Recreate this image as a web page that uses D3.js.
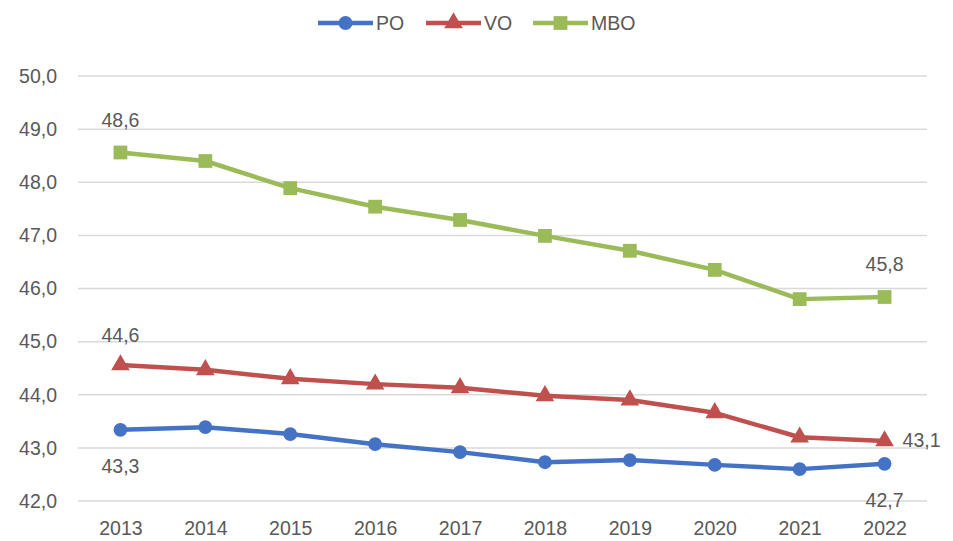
<!DOCTYPE html>
<html>
<head>
<meta charset="utf-8">
<script src="https://cdn.jsdelivr.net/npm/d3@7"></script>
<style>
  body { margin: 0; background: #fff; }
  text { font-family: "Liberation Sans", Arial, sans-serif; fill: #595959; }
</style>
</head>
<body>
<div id="chart"></div>
<script>
var years = ["2013","2014","2015","2016","2017","2018","2019","2020","2021","2022"];
var po  = [43.34, 43.39, 43.26, 43.07, 42.92, 42.73, 42.77, 42.68, 42.60, 42.70];
var vo  = [44.56, 44.47, 44.30, 44.20, 44.13, 43.98, 43.90, 43.66, 43.20, 43.13];
var mbo = [48.56, 48.40, 47.89, 47.54, 47.29, 46.99, 46.71, 46.35, 45.80, 45.84];
var yTicks = [42, 43, 44, 45, 46, 47, 48, 49, 50];

var width = 953, height = 541;
var plotLeft = 78, plotRight = 927, plotTop = 76, plotBottom = 501;
var fontSize = "19.5px";

var fmt = function(v) { return d3.format(".1f")(v).replace(".", ","); };

var x = d3.scalePoint().domain(years).range([plotLeft, plotRight]).padding(0.5);
var y = d3.scaleLinear().domain([42, 50]).range([plotBottom, plotTop]);

var svg = d3.select("#chart").append("svg")
    .attr("width", width)
    .attr("height", height);

// gridlines
svg.append("g")
  .selectAll("line")
  .data(yTicks)
  .enter().append("line")
    .attr("x1", plotLeft).attr("x2", plotRight)
    .attr("y1", function(d) { return y(d); })
    .attr("y2", function(d) { return y(d); })
    .attr("stroke", "#d9d9d9")
    .attr("stroke-width", 1.5);

// y axis labels
var yAxis = d3.axisLeft(y).tickValues(yTicks).tickFormat(fmt).tickSize(0).tickPadding(0);
var gy = svg.append("g")
    .attr("transform", "translate(57,0)")
    .call(yAxis);
gy.select(".domain").remove();
gy.selectAll("text")
    .style("font-size", fontSize)
    .style("font-family", "'Liberation Sans', Arial, sans-serif")
    .attr("fill", "#595959");

// x axis labels
var xAxis = d3.axisBottom(x).tickSize(0).tickPadding(0);
var gx = svg.append("g")
    .attr("transform", "translate(0,521)")
    .call(xAxis);
gx.select(".domain").remove();
gx.selectAll("text")
    .style("font-size", fontSize)
    .style("font-family", "'Liberation Sans', Arial, sans-serif")
    .attr("fill", "#595959");

var series = [
  {name: "PO",  values: po,  color: "#4472C4", shape: d3.symbolCircle,   size: 150},
  {name: "VO",  values: vo,  color: "#C0504D", shape: d3.symbolTriangle, size: 150},
  {name: "MBO", values: mbo, color: "#9BBB59", shape: d3.symbolSquare,   size: 190}
];

var line = d3.line()
    .x(function(d, i) { return x(years[i]); })
    .y(function(d) { return y(d); });

series.forEach(function(s) {
  svg.append("path")
      .datum(s.values)
      .attr("fill", "none")
      .attr("stroke", s.color)
      .attr("stroke-width", 4.5)
      .attr("stroke-linejoin", "round")
      .attr("d", line);

  svg.selectAll(".m-" + s.name)
      .data(s.values)
    .enter().append("path")
      .attr("class", "m-" + s.name)
      .attr("transform", function(d, i) { return "translate(" + x(years[i]) + "," + y(d) + ")"; })
      .attr("d", d3.symbol().type(s.shape).size(s.size))
      .attr("fill", s.color);
});

// data labels
var labels = [
  {v: mbo[0], i: 0, dx: 0,  dy: -26, anchor: "middle"},
  {v: mbo[9], i: 9, dx: 0,  dy: -26, anchor: "middle"},
  {v: vo[0],  i: 0, dx: 0,  dy: -23, anchor: "middle"},
  {v: vo[9],  i: 9, dx: 18, dy: 6,   anchor: "start"},
  {v: po[0],  i: 0, dx: 0,  dy: 43,  anchor: "middle"},
  {v: po[9],  i: 9, dx: 0,  dy: 43,  anchor: "middle"}
];
svg.selectAll(".dlabel")
    .data(labels)
  .enter().append("text")
    .attr("class", "dlabel")
    .attr("x", function(d) { return x(years[d.i]) + d.dx; })
    .attr("y", function(d) { return y(d.v) + d.dy; })
    .attr("text-anchor", function(d) { return d.anchor; })
    .style("font-size", fontSize)
    .text(function(d) { return fmt(d.v); });

// legend
var legendX = [318, 426, 533];
var legend = svg.selectAll(".legend")
    .data(series)
  .enter().append("g")
    .attr("class", "legend")
    .attr("transform", function(d, i) { return "translate(" + legendX[i] + ",23)"; });
legend.append("line")
    .attr("x1", 0).attr("x2", 55)
    .attr("stroke", function(d) { return d.color; })
    .attr("stroke-width", 4.5);
legend.append("path")
    .attr("transform", "translate(27.5,0)")
    .attr("d", function(d) { return d3.symbol().type(d.shape).size(d.size)(); })
    .attr("fill", function(d) { return d.color; });
legend.append("text")
    .attr("x", 58)
    .attr("y", 7)
    .style("font-size", fontSize)
    .text(function(d) { return d.name; });
</script>
</body>
</html>
